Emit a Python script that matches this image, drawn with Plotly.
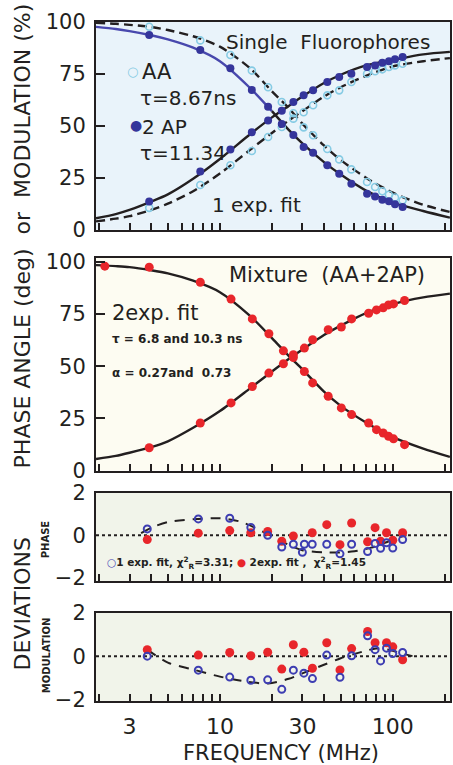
import plotly.graph_objects as go

# ---------------- data ----------------
# Panel 1: single fluorophores (frequency in MHz)
F1 = [3.9, 7.7, 11.5, 15.3, 19.0, 22.8, 26.6, 30.5, 34.6, 41.8, 49.0, 57.6, 71.0, 79.0, 87.0, 95.0, 103.0, 114.0]
AA_PHASE = [10.5, 21.5, 31.0, 37.8, 44.6, 49.4, 53.4, 56.5, 59.8, 64.6, 67.0, 71.0, 75.0, 76.2, 77.1, 78.2, 79.0, 79.8]
AA_MOD = [97.6, 91.0, 84.0, 76.5, 68.5, 61.4, 56.0, 49.2, 45.4, 38.8, 33.8, 29.0, 22.9, 20.5, 18.5, 16.8, 15.5, 14.1]
AP_PHASE = [13.5, 28.0, 38.5, 46.8, 52.5, 57.2, 61.4, 64.6, 67.0, 71.0, 73.4, 75.0, 78.2, 79.0, 80.3, 81.0, 81.9, 83.0]
AP_MOD = [93.6, 86.4, 77.6, 67.2, 59.1, 50.8, 45.5, 39.8, 37.0, 31.0, 26.9, 22.1, 17.3, 16.0, 14.4, 13.7, 12.2, 10.9]

# fitted curves, read at these frequencies
CF = [1.92, 2.5, 3, 4, 5, 7, 10, 15, 20, 25, 30, 40, 50, 70, 100, 150, 214]
AP_PHASE_FIT = [5.5, 7.5, 9.5, 13.5, 17.0, 24.5, 34.0, 46.0, 54.0, 59.5, 64.0, 70.5, 74.5, 79.0, 81.6, 84.3, 85.5]
AP_MOD_FIT = [97.5, 96.5, 95.5, 93.5, 91.5, 87.5, 81.0, 68.0, 57.0, 48.0, 41.5, 32.5, 26.5, 18.8, 13.0, 9.0, 5.8]
AA_PHASE_FIT = [4.0, 5.3, 6.5, 9.5, 12.5, 18.5, 27.0, 38.5, 46.5, 52.5, 57.0, 64.0, 68.5, 74.0, 78.5, 81.0, 82.5]
AA_MOD_FIT = [99.5, 99.0, 98.5, 97.5, 96.0, 93.0, 88.0, 77.5, 66.5, 58.5, 51.0, 40.5, 33.5, 25.0, 17.8, 12.0, 8.5]
AP_MOD_BLUE_END = 20  # the 2AP modulation fit is drawn blue up to this frequency

# Panel 2: mixture
F2 = [2.16, 3.9, 7.7, 11.6, 15.4, 19.2, 23.3, 26.6, 30.8, 34.4, 42.3, 50.4, 57.8, 72.5, 80.5, 88.0, 94.5, 101.0, 117.0]
MIX_PHASE = [None, 10.9, 22.8, 32.4, 40.3, 46.7, 51.2, 55.5, 58.7, 62.7, 67.5, 68.8, 72.7, 75.4, 77.0, 78.0, 79.4, 79.9, 81.5]
MIX_MOD = [98.0, 97.5, 90.3, 82.2, 72.7, 65.6, 57.4, 54.2, 47.5, 42.0, 35.6, 30.0, 26.8, 22.8, 19.6, 18.0, 16.4, 15.2, 12.4]
MIX_PHASE_FIT = [5.5, 7.0, 8.5, 11.2, 14.0, 20.5, 28.5, 39.5, 47.5, 53.5, 58.0, 65.0, 69.5, 75.5, 79.8, 83.0, 84.8]
MIX_MOD_FIT = [98.5, 98.0, 97.5, 96.0, 94.5, 91.0, 85.5, 74.0, 63.5, 55.0, 48.5, 37.8, 31.0, 23.0, 16.0, 10.5, 6.5]

# Panel 3: phase deviations
FD_PH = [3.8, 7.5, 11.4, 15.1, 18.9, 22.8, 26.6, 30.0, 30.8, 34.2, 41.5, 49.5, 57.8, 71.5, 79.0, 85.0, 92.0, 100.0, 114.0]
PH_DEV_1EXP = [0.3, 0.77, 0.8, 0.37, 0.0, -0.55, -0.42, -0.8, -0.42, -0.42, -0.42, -0.87, -0.42, -0.76, -0.38, -0.61, -0.35, -0.6, -0.2]
PH_DEV_2EXP = [-0.2, 0.1, 0.22, 0.12, 0.18, -0.28, -0.03, None, None, 0.12, 0.5, -0.44, 0.58, -0.3, 0.36, -0.28, 0.12, -0.23, 0.12]
PH_FIT_F = [3.5, 4, 5, 7, 10, 13, 16, 20, 25, 30, 40, 50, 60, 75, 90, 110, 120]
PH_FIT = [0.1, 0.35, 0.62, 0.75, 0.8, 0.65, 0.35, -0.05, -0.45, -0.7, -0.8, -0.8, -0.75, -0.58, -0.35, -0.08, 0.0]

# Panel 4: modulation deviations
FD_MOD = [3.8, 7.5, 11.4, 15.1, 18.9, 22.8, 26.6, 30.6, 34.3, 41.5, 49.5, 57.8, 71.5, 79.0, 85.0, 92.0, 100.0, 114.0]
MOD_DEV_1EXP = [0.0, -0.65, -0.97, -1.12, -1.1, -1.54, -0.65, -0.79, -1.04, 0.05, -0.98, 0.02, 0.94, 0.3, -0.22, 0.37, 0.12, 0.17]
MOD_DEV_2EXP = [0.3, 0.05, 0.17, 0.02, 0.18, -0.6, 0.53, 0.18, -0.56, 0.62, -0.64, 0.35, 1.14, 0.62, None, 0.62, 0.43, -0.17]
MOD_FIT_F = [3.8, 5, 7, 10, 14, 19, 25, 30, 40, 50, 60, 70, 80, 95, 110, 130]
MOD_FIT = [0.3, -0.3, -0.62, -0.95, -1.17, -1.27, -1.05, -0.8, -0.4, -0.1, 0.1, 0.25, 0.35, 0.3, 0.15, 0.0]

# axis ticks
X_TICKS = [2, 3, 4, 5, 6, 7, 8, 9, 10, 20, 30, 40, 50, 60, 70, 80, 90, 100, 200]
X_LABELED = {3: "3", 10: "10", 30: "30", 100: "100"}
Y_TICKS_MAIN = [0, 25, 50, 75, 100]
Y_TICKS_DEV = [-2, 0, 2]

# ---------------- styling ----------------
W, H = 453, 765
ML, MR, MT, MB = 96, 1, 20, 64
FONT = "DejaVu Sans"
INK = "#231f20"
CYAN = "#86cbe4"
NAVY = "#35359b"
BLUE_LINE = "#4848ad"
RED = "#e8262b"
OPEN_BLUE = "#3d3db2"
BG1 = "#e9f3fa"
BG2 = "#fdfcf2"
BG3 = "#f1f4ea"

fig = go.Figure()

def add_line(x, y, xa, ya, color=INK, dash="solid", width=2.4):
    fig.add_trace(go.Scatter(x=x, y=y, mode="lines", xaxis=xa, yaxis=ya,
                             line=dict(color=color, width=width, dash=dash, shape="spline", smoothing=0.8),
                             hoverinfo="skip", showlegend=False))

def add_pts(x, y, xa, ya, symbol, color, size, lw=0):
    fig.add_trace(go.Scatter(x=x, y=y, mode="markers", xaxis=xa, yaxis=ya,
                             marker=dict(symbol=symbol, color=color, size=size,
                                         line=dict(color=color, width=lw)),
                             showlegend=False))

# Panel 1
add_line(CF, AA_PHASE_FIT, "x", "y", dash="9px,5px")
add_line(CF, AA_MOD_FIT, "x", "y", dash="9px,5px")
add_line(CF, AP_PHASE_FIT, "x", "y")
blue_n = sum(1 for f in CF if f <= AP_MOD_BLUE_END)
add_line(CF[:blue_n], AP_MOD_FIT[:blue_n], "x", "y", color=BLUE_LINE)
add_line(CF[blue_n - 1:], AP_MOD_FIT[blue_n - 1:], "x", "y")
add_pts(F1, AA_PHASE, "x", "y", "circle-open", CYAN, 7, 1.6)
add_pts(F1, AA_MOD, "x", "y", "circle-open", CYAN, 7, 1.6)
add_pts(F1, AP_PHASE, "x", "y", "circle", NAVY, 8)
add_pts(F1, AP_MOD, "x", "y", "circle", NAVY, 8)

# Panel 2
add_line(CF, MIX_PHASE_FIT, "x2", "y2")
add_line(CF, MIX_MOD_FIT, "x2", "y2")
add_pts(F2, MIX_PHASE, "x2", "y2", "circle", RED, 9)
add_pts(F2, MIX_MOD, "x2", "y2", "circle", RED, 9)

# Panel 3
add_line(PH_FIT_F, PH_FIT, "x3", "y3", dash="10px,8px", width=2)
add_pts(FD_PH, PH_DEV_2EXP, "x3", "y3", "circle", RED, 9)
add_pts(FD_PH, PH_DEV_1EXP, "x3", "y3", "circle-open", OPEN_BLUE, 7, 2)

# Panel 4
add_line(MOD_FIT_F, MOD_FIT, "x4", "y4", dash="10px,8px", width=2)
add_pts(FD_MOD, MOD_DEV_2EXP, "x4", "y4", "circle", RED, 9)
add_pts(FD_MOD, MOD_DEV_1EXP, "x4", "y4", "circle-open", OPEN_BLUE, 7, 2)

# ---------------- axes ----------------
XRANGE = [0.2833, 2.331]

def xaxis(anchor, labels):
    return dict(type="log", range=XRANGE, domain=[0, 1], anchor=anchor,
                showline=True, mirror=True, linecolor=INK, linewidth=2,
                showgrid=False, zeroline=False,
                ticks="inside", ticklen=7, tickwidth=1.5, tickcolor=INK,
                tickmode="array", tickvals=X_TICKS,
                ticktext=[X_LABELED.get(v, "") if labels else "" for v in X_TICKS],
                tickfont=dict(family=FONT, size=22, color=INK),
                ticklabelstandoff=5)

def yaxis(anchor, dom, rng, vals, ticks):
    return dict(domain=dom, range=rng, anchor=anchor,
                showline=True, mirror=True, linecolor=INK, linewidth=2,
                showgrid=False, zeroline=False,
                ticks=ticks, ticklen=9, tickwidth=1.5, tickcolor=INK,
                tickmode="array", tickvals=vals,
                tickfont=dict(family=FONT, size=21, color=INK),
                ticklabelstandoff=4)

D1 = [0.69207, 0.99750]
D2 = [0.33847, 0.65081]
D3 = [0.17606, 0.30588]
D4 = [0.0, 0.12922]

shapes = []
for i, bg in zip(["", "2", "3", "4"], [BG1, BG2, BG3, BG3]):
    shapes.append(dict(type="rect", xref=f"x{i} domain", yref=f"y{i} domain",
                       x0=0, x1=1, y0=0, y1=1, fillcolor=bg, line=dict(width=0), layer="below"))
for i in ["3", "4"]:
    shapes.append(dict(type="line", xref=f"x{i} domain", yref=f"y{i}",
                       x0=0, x1=1, y0=0, y1=0, line=dict(color=INK, width=2, dash="dot"), layer="below"))

# ---------------- text ----------------
def P(x, y):
    return (x - ML) / (W - ML - MR), (H - MB - y) / (H - MT - MB)

annotations = []

def txt(x, y, s, size, anchor="left", angle=0, color=INK, yanchor="middle"):
    px_, py_ = P(x, y)
    annotations.append(dict(x=px_, y=py_, xref="paper", yref="paper", text=s, showarrow=False,
                            xanchor=anchor, yanchor=yanchor, textangle=angle,
                            font=dict(family=FONT, size=size, color=color)))

txt(329, 42, "Single  Fluorophores", 20, anchor="center")
txt(133, 71, "○", 13, anchor="center", color=CYAN)
txt(140, 72, "AA", 21)
txt(138, 98, "τ=8.67ns", 20)
txt(136, 125, "●", 14, anchor="center", color=NAVY)
txt(140, 127, "2 AP", 20)
txt(138, 153, "τ=11.34", 20)
txt(257, 205, "1 exp. fit", 20, anchor="center")

txt(328, 275, "Mixture  (AA+2AP)", 21, anchor="center")
txt(110, 313, "2exp. fit", 21)
txt(110, 339, "<b>τ = 6.8 and 10.3 ns</b>", 12)
txt(110, 373, "<b>α = 0.27and  0.73</b>", 12)

txt(105, 563,
    f"<b><span style='color:{OPEN_BLUE}'>○</span>1 exp. fit, χ<sup>2</sup><sub>R</sub>=3.31; "
    f"<span style='color:{RED}'>●</span> 2exp. fit ,  χ<sup>2</sup><sub>R</sub>=1.45</b>", 10.5)

txt(22, 236, "PHASE ANGLE (deg)  or  MODULATION (%)", 22, anchor="center", angle=-90)
txt(22, 604, "DEVIATIONS", 22, anchor="center", angle=-90)
txt(45, 539, "<b>PHASE</b>", 10, anchor="center", angle=-90)
txt(46, 655, "<b>MODULATION</b>", 10, anchor="center", angle=-90)
txt(282, 753, "FREQUENCY (MHz)", 21, anchor="center")

fig.update_layout(
    width=W, height=H, margin=dict(l=ML, r=MR, t=MT, b=MB),
    paper_bgcolor="white", plot_bgcolor="white",
    xaxis=xaxis("y", False), xaxis2=xaxis("y2", False),
    xaxis3=xaxis("y3", False), xaxis4=xaxis("y4", True),
    yaxis=yaxis("x", D1, [0, 100], Y_TICKS_MAIN, "inside"),
    yaxis2=yaxis("x2", D2, [0, 102], Y_TICKS_MAIN, "inside"),
    yaxis3=yaxis("x3", D3, [-2.15, 2], Y_TICKS_DEV, ""),
    yaxis4=yaxis("x4", D4, [-2.08, 2], Y_TICKS_DEV, ""),
    shapes=shapes, annotations=annotations, showlegend=False,
)

fig.write_html("out.html", config={"displayModeBar": False},
               post_script="document.body.style.margin='0px';")
